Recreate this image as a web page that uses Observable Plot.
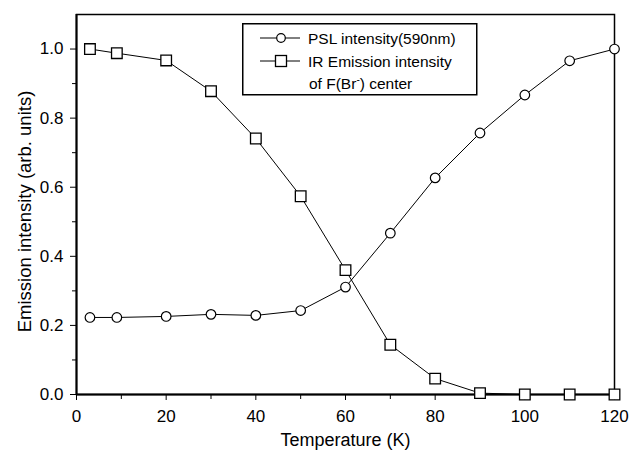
<!DOCTYPE html>
<html><head><meta charset="utf-8">
<script src="https://cdn.jsdelivr.net/npm/d3@7"></script>
<script src="https://cdn.jsdelivr.net/npm/@observablehq/plot@0.6"></script>
<style>
body{margin:0;background:#fff;font-family:"Liberation Sans",Arial,sans-serif;}
#wrap{position:relative;width:644px;height:457px;}
#legend{position:absolute;left:242px;top:23px;}
</style></head><body><div id="wrap"></div>
<script>
const temps = [3, 9, 20, 30, 40, 50, 60, 70, 80, 90, 100, 110, 120];
const psl = [0.223, 0.223, 0.226, 0.232, 0.229, 0.243, 0.311, 0.467, 0.627, 0.757, 0.867, 0.966, 1.0];
const ir = [1.0, 0.988, 0.967, 0.878, 0.741, 0.574, 0.36, 0.144, 0.046, 0.004, 0.0, 0.0, 0.0];
const xMajor = [0, 20, 40, 60, 80, 100, 120];
const xMinor = [10, 30, 50, 70, 90, 110];
const yMajor = [0, 0.2, 0.4, 0.6, 0.8, 1.0];
const yMinor = [0.1, 0.3, 0.5, 0.7, 0.9];
const xLabel = "Temperature (K)";
const yLabel = "Emission intensity (arb. units)";
const legendLabels = ["PSL intensity(590nm)", "IR Emission intensity", "of F(Br", ") center"];

const pslData = temps.map((t, i) => ({t, v: psl[i]}));
const irData = temps.map((t, i) => ({t, v: ir[i]}));
const font = '"Liberation Sans", Arial, Helvetica, sans-serif';

const chart = Plot.plot({
  width: 644, height: 457,
  marginLeft: 76, marginRight: 30, marginTop: 14, marginBottom: 63,
  style: {fontFamily: font, fontSize: "17px", color: "#000", background: "#fff"},
  x: {domain: [0, 120]},
  y: {domain: [0, 1.1]},
  marks: [
    Plot.frame({stroke: "#000", strokeWidth: 1.5}),
    Plot.axisX({ticks: xMajor, tickSize: 6, tickPadding: 9, tickFormat: d => String(d), label: null, fontSize: 17}),
    Plot.axisX({ticks: xMinor, tickSize: 5, tickFormat: () => "", label: null}),
    Plot.axisY({ticks: yMajor, tickSize: 6, tickPadding: 7, tickFormat: d3.format(".1f"), label: null, fontSize: 17}),
    Plot.axisY({ticks: yMinor, tickSize: 4, tickFormat: () => "", label: null}),
    Plot.ruleY([0], {stroke: "#000", strokeWidth: 2}),
    Plot.ruleX([0], {stroke: "#000", strokeWidth: 2}),
    Plot.text([xLabel], {frameAnchor: "bottom", textAnchor: "middle", lineAnchor: "middle", dy: 46, fontSize: 18, text: d => d}),
    Plot.text([yLabel], {frameAnchor: "left", textAnchor: "middle", lineAnchor: "middle", rotate: -90, dx: -51, dy: 7, fontSize: 18.5, text: d => d}),
    Plot.line(irData, {x: "t", y: "v", stroke: "#000", strokeWidth: 1}),
    Plot.line(pslData, {x: "t", y: "v", stroke: "#000", strokeWidth: 1}),
    Plot.dot(irData, {x: "t", y: "v", symbol: "square", r: 6, fill: "#fff", stroke: "#000", strokeWidth: 1.3}),
    Plot.dot(pslData, {x: "t", y: "v", symbol: "circle", r: 4.8, fill: "#fff", stroke: "#000", strokeWidth: 1.2})
  ]
});
const wrap = document.getElementById("wrap");
wrap.appendChild(chart);

// legend overlay
const lg = document.createElementNS("http://www.w3.org/2000/svg", "svg");
lg.setAttribute("id", "legend");
lg.setAttribute("width", 236);
lg.setAttribute("height", 73);
lg.innerHTML = `
<rect x="0.75" y="0.75" width="234" height="71" fill="#fff" stroke="#000" stroke-width="1.5"/>
<g font-family='${font}' font-size="15.5" fill="#000">
  <line x1="18" x2="58" y1="15" y2="15" stroke="#000"/>
  <circle cx="39" cy="15" r="4.3" fill="#fff" stroke="#000" stroke-width="1.2"/>
  <text x="66" y="20.5">${legendLabels[0]}</text>
  <line x1="18" x2="58" y1="38" y2="38" stroke="#000"/>
  <rect x="33.5" y="32.5" width="11" height="11" fill="#fff" stroke="#000" stroke-width="1.3"/>
  <text x="66" y="43.5">${legendLabels[1]}</text>
  <text x="67" y="65.5">${legendLabels[2]}<tspan dy="-6" font-size="10">-</tspan><tspan dy="6">${legendLabels[3]}</tspan></text>
</g>`;
wrap.appendChild(lg);
</script></body></html>
